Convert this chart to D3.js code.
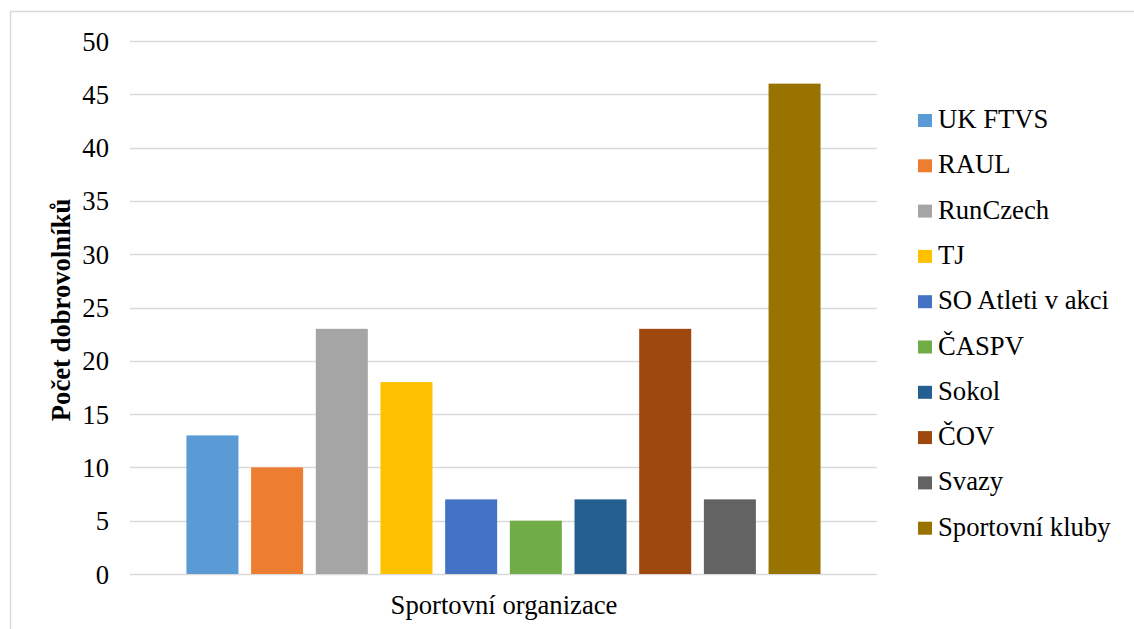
<!DOCTYPE html>
<html>
<head>
<meta charset="utf-8">
<script src="https://cdn.jsdelivr.net/npm/d3@7"></script>
<style>
  html, body { margin: 0; padding: 0; background: #fff; }
  svg { display: block; }
</style>
</head>
<body>
<svg id="chart" width="1134" height="629"></svg>
<script>
// Počet dobrovolníků podle sportovní organizace
const categories = ["Sportovní organizace"];
const organizations = ["UK FTVS", "RAUL", "RunCzech", "TJ", "SO Atleti v akci", "ČASPV", "Sokol", "ČOV", "Svazy", "Sportovní kluby"];
const volunteers = [13, 10, 23, 18, 7, 5, 7, 23, 7, 46];
const colors = ["#5B9BD5", "#ED7D31", "#A5A5A5", "#FFC000", "#4472C4", "#70AD47", "#255E91", "#9E480E", "#636363", "#997300"];
const yTicks = [0, 5, 10, 15, 20, 25, 30, 35, 40, 45, 50];
const yTitle = "Počet dobrovolníků";

const FONT = "'Liberation Serif', 'Times New Roman', serif";
const FS = 26.67;
const svg = d3.select("#chart");
const plot = { left: 130, right: 877, top: 41, bottom: 574 };

// chart frame
svg.append("rect")
  .attr("x", 10.5).attr("y", 11.5)
  .attr("width", 1130).attr("height", 630)
  .attr("fill", "none").attr("stroke", "#d9d9d9").attr("stroke-width", 1.5);

const y = d3.scaleLinear().domain([0, 50]).range([plot.bottom, plot.top]);
const x0 = d3.scaleBand().domain(categories).range([plot.left, plot.right]).paddingOuter(0.089);
const x1 = d3.scaleBand().domain(organizations).range([0, x0.bandwidth()]).paddingInner(0.196);

// gridlines
svg.append("g")
  .selectAll("line")
  .data(yTicks)
  .join("line")
  .attr("x1", plot.left).attr("x2", plot.right)
  .attr("y1", d => Math.round(y(d)) + 0.5).attr("y2", d => Math.round(y(d)) + 0.5)
  .attr("stroke", "#d9d9d9").attr("stroke-width", 1.5);

// y axis labels
const yAxis = d3.axisLeft(y).tickValues(yTicks).tickSize(0).tickPadding(0);
const yg = svg.append("g").attr("transform", `translate(109,0)`).call(yAxis)
  .attr("font-family", FONT).attr("font-size", FS);
yg.select(".domain").remove();
yg.selectAll("text")
  .attr("font-family", FONT)
  .attr("font-size", FS).attr("fill", "#000").attr("dy", "0.34em");

// bars
const group = svg.append("g")
  .selectAll("g")
  .data(categories)
  .join("g")
  .attr("transform", d => `translate(${x0(d)},0)`);

group.selectAll("rect")
  .data(organizations.map((name, i) => ({ name, value: volunteers[i], color: colors[i] })))
  .join("rect")
  .attr("x", d => x1(d.name))
  .attr("width", x1.bandwidth())
  .attr("y", d => y(d.value))
  .attr("height", d => y(0) - y(d.value))
  .attr("fill", d => d.color);

// axis titles
svg.append("text")
  .attr("x", 504).attr("y", 614)
  .attr("text-anchor", "middle")
  .attr("font-family", FONT)
  .attr("font-size", FS).attr("fill", "#000")
  .text(categories[0]);

svg.append("text")
  .attr("transform", `translate(70,310) rotate(-90)`)
  .attr("text-anchor", "middle")
  .attr("font-family", FONT)
  .attr("font-size", FS).attr("font-weight", "bold").attr("fill", "#000")
  .text(yTitle);

// legend
const legend = svg.append("g").attr("transform", "translate(918,120.5)");
const rows = legend.selectAll("g")
  .data(organizations)
  .join("g")
  .attr("transform", (d, i) => `translate(0,${i * 45.3})`);
rows.append("rect")
  .attr("x", 0).attr("y", -6.5).attr("width", 14).attr("height", 13)
  .attr("fill", (d, i) => colors[i]);
rows.append("text")
  .attr("x", 20).attr("y", 7.5)
  .attr("font-family", FONT)
  .attr("font-size", FS).attr("fill", "#000")
  .text(d => d);
</script>
</body>
</html>
